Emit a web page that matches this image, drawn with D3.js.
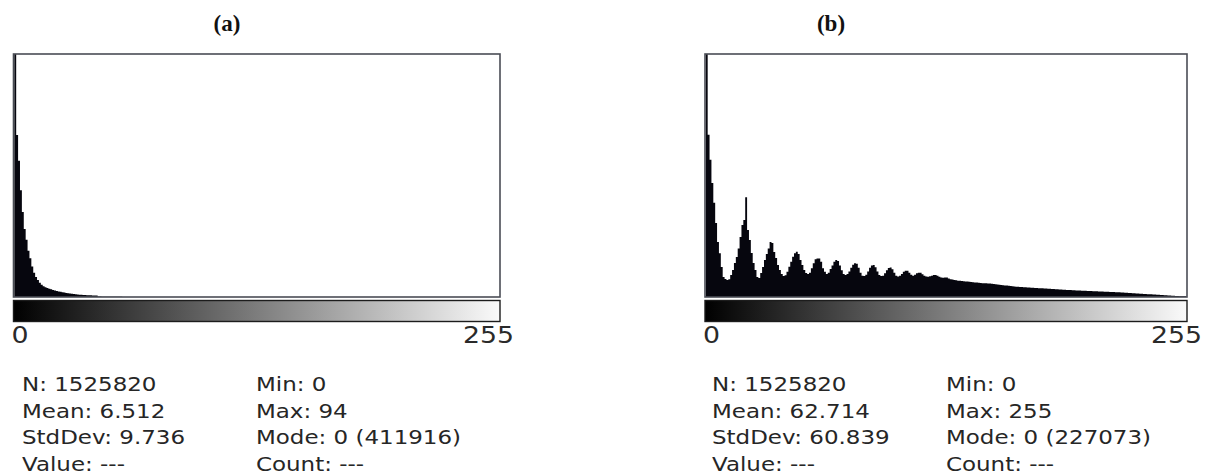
<!DOCTYPE html>
<html>
<head>
  <script src="https://d3js.org/d3.v7.min.js"></script>
  <style>
    body { margin: 0; background: #fff; }
  </style>
</head>
<body>
  <svg id="chart"></svg>
  <script>
    var width = 1217;
    var height = 475;

    // histogram counts per grey level, bins 0..94 (panel a, Max: 94)
    var countsA = [411916, 188000, 158000, 124000, 98700, 79000, 66300, 53600, 45100, 35300,
      28200, 23100, 19700, 16400, 14100,
      12500, 11300, 10400, 9600, 8900, 8200, 7600, 7000, 6500, 6000,
      5500, 5100, 4700, 4300, 4000, 3700, 3400, 3100, 2900, 2700,
      2500, 2300, 2200, 2100, 2000, 1900, 1800, 1700, 1600,
      520, 470, 430, 390, 350, 320, 290, 260, 240, 220,
      200, 180, 160, 145, 130, 120, 110, 100, 90, 80,
      72, 65, 58, 52, 47, 42, 38, 34, 30, 27,
      24, 21, 19, 17, 15, 13, 12, 11, 10, 9,
      8, 7, 6, 5, 5, 4, 3, 3, 2, 2, 1];

    // histogram counts per grey level, bins 0..255 (panel b)
    var countsB = [227073, 37700, 31900, 26500, 21900, 17200, 12800, 10200, 6950, 4630,
      4180, 3960, 4120, 5090, 6270, 7910, 9320, 11300, 13960, 16720,
      17910, 23170, 15590, 13280, 10230, 7910, 6270, 4630, 4410, 5590,
      6950, 8590, 10000, 11300, 12770, 12540, 10450, 9040, 7460, 6270,
      5370, 4860, 5030, 5880, 7060, 8190, 9380, 10170, 10510, 10000,
      8590, 7460, 6270, 5590, 5370, 5650, 6670, 7850, 8760, 8980,
      8980, 8190, 6670, 5880, 5370, 5650, 6500, 7350, 8190, 8590,
      8360, 7350, 6220, 5370, 5140, 5370, 5930, 6780, 7510, 7850,
      7740, 6780, 5650, 4970, 4860, 5200, 5930, 6780, 7350, 7460,
      6890, 5930, 5090, 4860, 4970, 5540, 6220, 6720, 6840, 6440,
      5650, 4970, 4750, 4920, 5370, 5880, 6100, 6100, 5650, 5200,
      4970, 5200, 5540, 5650, 5650, 5310, 4970, 4750, 4690, 4800,
      4970, 5090, 5090, 4920, 4690, 4520, 4460, 4520, 4520, 4290,
      4120, 4060, 3950, 3900, 3800, 3750, 3700, 3650, 3600, 3580,
      3560, 3500, 3450, 3400, 3350, 3300, 3250, 3220, 3200, 3180,
      3160, 3140, 3080, 3000, 2950, 2900, 2850, 2800, 2750, 2700,
      2650, 2600, 2550, 2500, 2450, 2400, 2370, 2340, 2310, 2280,
      2250, 2220, 2190, 2160, 2130, 2100, 2080, 2060, 2040, 2020,
      2000, 1960, 1930, 1900, 1870, 1840, 1810, 1780, 1750, 1720,
      1690, 1660, 1640, 1620, 1600, 1580, 1560, 1540, 1520, 1500,
      1480, 1460, 1440, 1420, 1400, 1380, 1360, 1340, 1320, 1300,
      1280, 1260, 1240, 1220, 1200, 1180, 1160, 1140, 1120, 1100,
      1080, 1060, 1040, 1010, 980, 950, 920, 890, 860, 830,
      800, 770, 740, 710, 680, 660, 640, 620, 600, 570,
      540, 510, 480, 450, 420, 390, 360, 330, 300, 270,
      240, 220, 200, 180, 160, 150];

    // display ceiling of each plot (the mode bin is clipped at the top)
    var yTopA = 282000;
    var yTopB = 56500;

    var titles = ["(a)", "(b)"];
    var rangeLabels = ["0", "255"];
    var statsLeftA = ["N: 1525820", "Mean: 6.512", "StdDev: 9.736", "Value: ---"];
    var statsRightA = ["Min: 0", "Max: 94", "Mode: 0 (411916)", "Count: ---"];
    var statsLeftB = ["N: 1525820", "Mean: 62.714", "StdDev: 60.839", "Value: ---"];
    var statsRightB = ["Min: 0", "Max: 255", "Mode: 0 (227073)", "Count: ---"];

    var svg = d3.select("#chart")
                .attr("width", width)
                .attr("height", height);

    var defs = svg.append("defs");
    var grad = defs.append("linearGradient")
                   .attr("id", "lut")
                   .attr("x1", "0%").attr("x2", "100%")
                   .attr("y1", "0%").attr("y2", "0%");
    grad.append("stop").attr("offset", "0%").attr("stop-color", "#000");
    grad.append("stop").attr("offset", "100%").attr("stop-color", "#fafafa");

    var plotTop = 54;
    var plotBottom = 297;

    function drawPanel(p) {
      var g = svg.append("g");

      var x = d3.scaleLinear()
                .domain([0, 256])
                .range([p.left + 0.8, p.right - 0.8]);
      var y = d3.scaleLinear()
                .domain([0, p.yTop])
                .range([plotBottom, plotTop])
                .clamp(true);

      // title
      g.append("text")
       .attr("x", p.titleX)
       .attr("y", 31)
       .attr("text-anchor", "middle")
       .attr("font-family", "'Liberation Serif', serif")
       .attr("font-weight", "bold")
       .attr("font-size", 23)
       .attr("fill", "#111")
       .text(p.title);

      // plot background + frame
      g.append("rect")
       .attr("x", p.left).attr("y", plotTop)
       .attr("width", p.right - p.left).attr("height", plotBottom - plotTop)
       .attr("fill", "#fff");

      var pts = p.counts.map(function(c, i) { return [i, c]; });
      pts.push([p.counts.length, p.counts[p.counts.length - 1]]);

      var area = d3.area()
                   .curve(d3.curveStepAfter)
                   .x(function(d) { return x(d[0]); })
                   .y0(plotBottom)
                   .y1(function(d) { return y(d[1]); });

      g.append("path")
       .datum(pts)
       .attr("d", area)
       .attr("fill", "#06060e");

      g.append("rect")
       .attr("x", p.left).attr("y", plotTop)
       .attr("width", p.right - p.left).attr("height", plotBottom - plotTop)
       .attr("fill", "none")
       .attr("stroke", "#4a4d55")
       .attr("stroke-width", 1.6);

      // grey-level bar
      g.append("rect")
       .attr("x", p.left).attr("y", 300.5)
       .attr("width", p.right - p.left).attr("height", 21)
       .attr("fill", "url(#lut)")
       .attr("stroke", "#1c1c1c")
       .attr("stroke-width", 1.4);

      // range labels, stretched like the source screenshot
      g.append("text")
       .attr("transform", "translate(" + (p.left - 2) + ",343) scale(1.19,1)")
       .attr("font-family", "'DejaVu Sans', sans-serif")
       .attr("font-size", 22.5)
       .attr("fill", "#2a2a2a")
       .text(rangeLabels[0]);
      g.append("text")
       .attr("transform", "translate(" + p.labelRight + ",343) scale(1.19,1)")
       .attr("text-anchor", "end")
       .attr("font-family", "'DejaVu Sans', sans-serif")
       .attr("font-size", 22.5)
       .attr("fill", "#2a2a2a")
       .text(rangeLabels[1]);

      // statistics
      var rowY = [391, 417.5, 444, 470.5];
      [[p.statsLeft, p.colA], [p.statsRight, p.colB]].forEach(function(col) {
        g.selectAll(null)
         .data(col[0])
         .enter().append("text")
         .attr("transform", function(d, i) {
           return "translate(" + col[1] + "," + rowY[i] + ") scale(1.19,1)";
         })
         .attr("font-family", "'DejaVu Sans', sans-serif")
         .attr("font-size", 19.3)
         .attr("fill", "#262626")
         .text(function(d) { return d; });
      });
    }

    drawPanel({
      title: titles[0], titleX: 227,
      left: 13.5, right: 500, labelRight: 514,
      counts: countsA, yTop: yTopA,
      statsLeft: statsLeftA, statsRight: statsRightA,
      colA: 22, colB: 256
    });

    drawPanel({
      title: titles[1], titleX: 831,
      left: 705, right: 1187, labelRight: 1202,
      counts: countsB, yTop: yTopB,
      statsLeft: statsLeftB, statsRight: statsRightB,
      colA: 712, colB: 946
    });
  </script>
</body>
</html>
